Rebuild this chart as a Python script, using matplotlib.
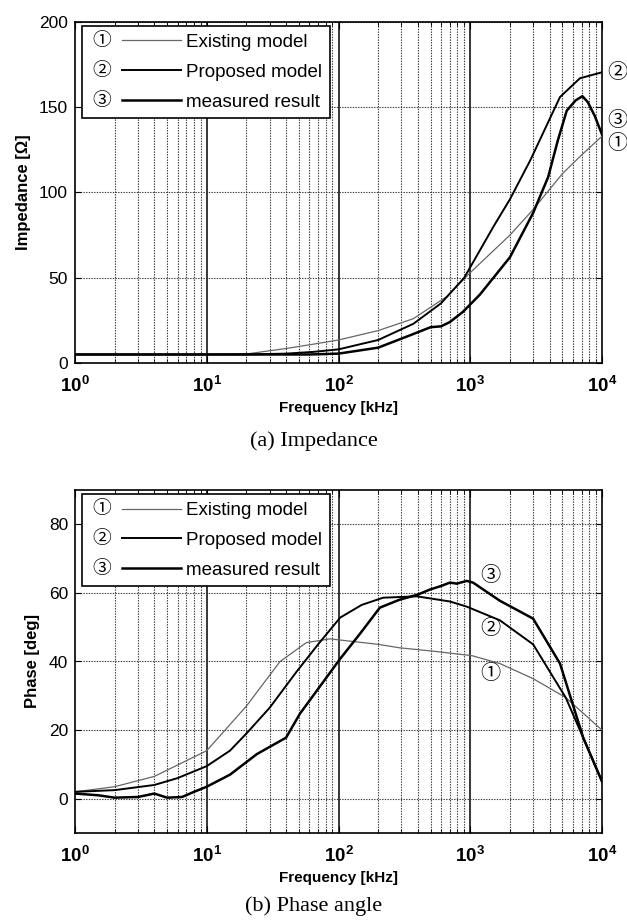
import matplotlib
matplotlib.use("Agg")
import matplotlib.pyplot as plt
from matplotlib.legend_handler import HandlerBase
from matplotlib.lines import Line2D
from matplotlib.text import Text
from matplotlib.ticker import FixedLocator, FixedFormatter, NullFormatter

# ---------------- data ----------------
series_names = ["Existing model", "Proposed model", "measured result"]
series_marks = ["\u2460", "\u2461", "\u2462"]

# Impedance (Ohm) vs frequency (kHz)
imp_f_exist = [1, 2, 5, 10, 20, 40, 64, 100, 200, 370, 665, 1000, 2000, 3000, 5000, 7000, 10000]
imp_z_exist = [5, 5, 5, 5, 5.3, 8.5, 11, 13.5, 19, 26, 39, 53, 75, 90, 111, 122, 133]

imp_f_prop = [1, 10, 20, 40, 64, 100, 200, 370, 600, 900, 1500, 2000, 2860, 4000, 4800, 6800, 10000]
imp_z_prop = [5, 5, 5, 5.5, 6.5, 8, 13.5, 23, 35, 50, 80, 96, 119, 143, 156, 167, 170.5]

imp_f_meas = [1, 10, 30, 60, 100, 200, 370, 500, 600, 700, 880, 1180, 1500, 2000, 3000, 3900, 4600, 5400, 6300, 7100, 7800, 8800, 10000]
imp_z_meas = [5, 5, 5, 5, 5.5, 9, 17, 21, 21.5, 24, 30, 40, 50, 62, 88, 109, 130, 148, 154, 156.5, 153, 145, 134]

# Phase (deg) vs frequency (kHz)
ph_f_exist = [1, 2, 4, 10, 20, 36, 57, 86, 200, 290, 525, 1030, 1680, 3000, 5300, 10000]
ph_p_exist = [2, 3.5, 6.5, 14, 27, 40, 45.5, 46.6, 45, 44, 43, 41.7, 39.4, 35, 29.5, 20]

ph_f_prop = [1, 2, 4, 6, 10, 15, 20, 30, 48, 70, 103, 150, 218, 393, 700, 940, 1680, 3000, 5300, 7200, 10000]
ph_p_prop = [2, 2.5, 4, 6, 9.5, 14, 19, 26.5, 37, 45, 52.8, 56.5, 58.6, 59, 57.5, 56, 52, 45, 29.5, 17.8, 5]

ph_f_meas = [1, 1.5, 2, 3, 4, 5, 6.5, 8, 10, 15, 24, 40, 51, 70, 103, 145, 206, 290, 400, 496, 600, 700, 790, 940, 1050, 1680, 3000, 4800, 7200, 10000]
ph_p_meas = [1.5, 1, 0.3, 0.5, 1.5, 0.3, 0.5, 2, 3.5, 7, 13, 17.8, 24.8, 32, 40.8, 48, 55.7, 58, 59.5, 61, 62, 63, 62.7, 63.5, 63, 57.7, 52.5, 39.4, 17.8, 5]

imp_yticks = [0, 50, 100, 150, 200]
ph_yticks = [0, 20, 40, 60, 80]
x_decades = [1, 10, 100, 1000, 10000]
x_ticklabels = [r"$\mathbf{10^{0}}$", r"$\mathbf{10^{1}}$", r"$\mathbf{10^{2}}$",
                r"$\mathbf{10^{3}}$", r"$\mathbf{10^{4}}$"]

# label positions near curves (f in kHz, value)
imp_mark_f = [13000, 13000, 13000]
imp_mark_v = [129, 170.6, 142]
ph_mark_f = [1413, 1413, 1413]
ph_mark_v = [36.5, 49.6, 65]

# ---------------- style ----------------
plt.rcParams["font.family"] = ["Liberation Sans", "DejaVu Sans", "Noto Sans CJK JP"]
plt.rcParams["mathtext.fontset"] = "custom"
plt.rcParams["mathtext.rm"] = "Liberation Sans"
plt.rcParams["mathtext.bf"] = "Liberation Sans:bold"
MARKFONT = ["Noto Sans CJK JP", "DejaVu Sans"]

line_styles = [dict(color="#666666", lw=0.9),
               dict(color="black", lw=1.4),
               dict(color="black", lw=1.8)]


class CircledHandler(HandlerBase):
    def __init__(self, mark, **kw):
        super().__init__(**kw)
        self.mark = mark

    def create_artists(self, legend, orig_handle, xdescent, ydescent,
                       width, height, fontsize, trans):
        y = height / 2.0 - ydescent
        x0 = -xdescent
        t = Text(x0 + 0.14 * width, y, self.mark, fontsize=fontsize * 1.0,
                 ha="center", va="center", family=MARKFONT, transform=trans)
        ln = Line2D([x0 + 0.36 * width, x0 + width], [y, y],
                    color=orig_handle.get_color(), lw=orig_handle.get_linewidth(),
                    transform=trans)
        return [t, ln]


fig = plt.figure(figsize=(6.27, 9.24), dpi=100)
W, H = 627.0, 924.0
ax1 = fig.add_axes([75 / W, 1 - 363 / H, 527 / W, 341 / H])
ax2 = fig.add_axes([75 / W, 1 - 833 / H, 527 / W, 343 / H])


def style_axes(ax, yticks, ylim, ylabel, ylabel_bold):
    ax.set_xscale("log")
    ax.set_xlim(1, 10000)
    ax.set_ylim(*ylim)
    ax.xaxis.set_major_locator(FixedLocator(x_decades))
    ax.xaxis.set_major_formatter(FixedFormatter(x_ticklabels))
    minors = [m * d for d in x_decades[:-1] for m in range(2, 10)]
    ax.xaxis.set_minor_locator(FixedLocator(minors))
    ax.xaxis.set_minor_formatter(NullFormatter())
    ax.set_yticks(yticks)
    ax.set_yticklabels([str(v) for v in yticks])
    ax.tick_params(axis="both", which="both", direction="in", top=True, right=True)
    ax.tick_params(axis="x", which="major", length=5, labelsize=13.5, pad=9)
    ax.tick_params(axis="x", which="minor", length=3)
    ax.tick_params(axis="y", which="major", length=4, labelsize=12.5, pad=5)
    # grid
    for d in x_decades[1:-1]:
        ax.axvline(d, color="black", lw=1.1, zorder=1)
    ax.grid(True, which="minor", axis="x", color="#333333", ls=(0, (1.2, 1.2)), lw=0.8)
    ax.grid(True, which="major", axis="y", color="#333333", ls=(0, (1.2, 1.2)), lw=0.8)
    for s in ax.spines.values():
        s.set_linewidth(1.2)
        s.set_color("black")
    ax.set_xlabel("Frequency [kHz]", fontsize=11, fontweight="bold", labelpad=4)
    ax.set_ylabel(ylabel, fontsize=12, fontweight="bold" if ylabel_bold else "normal",
                  labelpad=6)


style_axes(ax1, imp_yticks, (0, 200), "Impedance [\u03a9]", True)
style_axes(ax2, ph_yticks, (-10, 90), "Phase [deg]", True)

imp_data = [(imp_f_exist, imp_z_exist), (imp_f_prop, imp_z_prop), (imp_f_meas, imp_z_meas)]
ph_data = [(ph_f_exist, ph_p_exist), (ph_f_prop, ph_p_prop), (ph_f_meas, ph_p_meas)]

for ax, data, mf, mv in [(ax1, imp_data, imp_mark_f, imp_mark_v),
                         (ax2, ph_data, ph_mark_f, ph_mark_v)]:
    handles = []
    for (f, v), st, name in zip(data, line_styles, series_names):
        h, = ax.plot(f, v, zorder=3, **st)
        handles.append(h)
    for m, xf, yv in zip(series_marks, mf, mv):
        ax.text(xf, yv, m, fontsize=14.5, ha="center", va="center",
                family=MARKFONT, clip_on=False, zorder=4)
    leg = ax.legend(handles, series_names, loc="upper left",
                    bbox_to_anchor=(0.013, 0.987), borderaxespad=0,
                    fontsize=13.5, handlelength=4.9, handletextpad=0.27,
                    borderpad=0.4, labelspacing=0.68, fancybox=False,
                    framealpha=1, edgecolor="black",
                    handler_map={h: CircledHandler(m) for h, m in zip(handles, series_marks)})
    leg.get_frame().set_linewidth(1.2)
    leg.set_zorder(5)

fig.text(0.5, 1 - 441 / H, "(a) Impedance", ha="center", va="center",
         fontsize=16, family="Liberation Serif")
fig.text(0.5, 1 - 906 / H, "(b) Phase angle", ha="center", va="center",
         fontsize=16, family="Liberation Serif")

fig.savefig("out.png", dpi=100)
